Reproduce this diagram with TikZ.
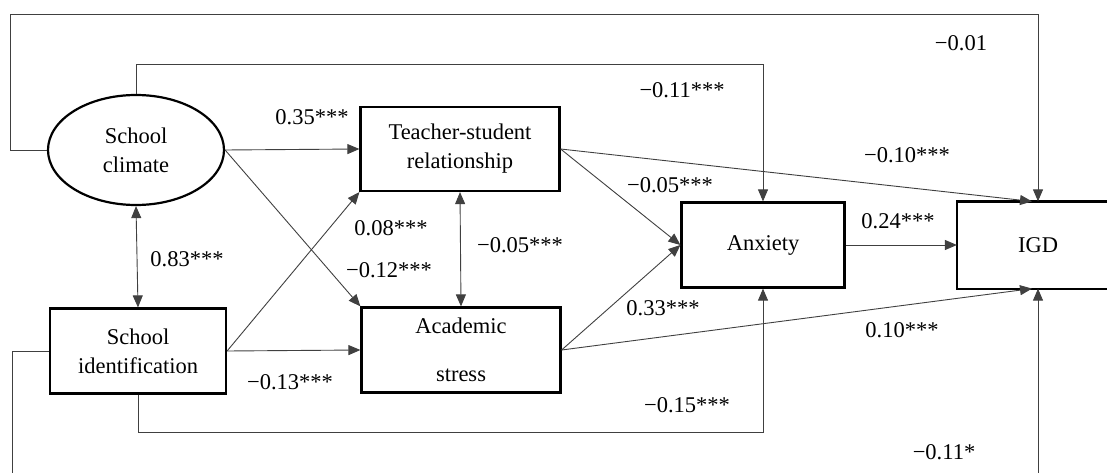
\documentclass[tikz,border=0pt]{standalone}
\usepackage{fontspec}
\setmainfont{Liberation Serif}
\usetikzlibrary{arrows.meta,shapes.geometric}

\begin{document}
\begin{tikzpicture}[x=1pt, y=-1pt,
    font=\fontsize{22.5}{29}\selectfont,
    var/.style={draw, line width=2.2pt, align=center, inner sep=0pt, minimum height=85pt},
    latent/.style={ellipse, draw, line width=2.2pt, align=center, inner sep=0pt,
                   minimum width=176pt, minimum height=110pt},
    link/.style={-{Triangle[length=12pt,width=10pt]}, line width=0.9pt, black!75},
    both/.style={{Triangle[length=12pt,width=10pt]}-{Triangle[length=12pt,width=10pt]},
                 line width=0.9pt, black!75},
    coef/.style={inner sep=1pt}]
    \useasboundingbox (0,0) rectangle (1107,473);

    % Variables
    \node[latent] (clim) at (136,150) {School\\climate};
    \node[var, minimum width=176pt] (sid) at (138,351) {School\\identification};
    \node[var, minimum width=199pt, minimum height=84pt] (tsr) at (460,149) {Teacher-student\\relationship};
    \node[var, minimum width=199pt] (as) at (461,350) {Academic\\[19pt]stress};
    \node[var, minimum width=163pt] (anx) at (763,245) {Anxiety};
    % IGD box runs off the right edge
    \node[var, draw=none, minimum width=160pt] (igd) at (1038,245) {IGD};
    \draw[line width=2.2pt] (1150,0 |- igd.north) -- (igd.north west)
                            -- (igd.south west) -- (1150,0 |- igd.south);

    % Corners of the long paths
    \coordinate (outtl) at (10,14);
    \coordinate (outbl) at (12,490);
    \coordinate (intop) at (0,64);
    \coordinate (inbot) at (0,432);

    % Paths from the predictors
    \draw[link] (clim.east) -- (tsr.west);
    \draw[link] (clim.east) -- (as.north west);
    \draw[link] (sid.east) -- (tsr.south west);
    \draw[link] (sid.east) -- (as.west);

    % Covariances
    \draw[both] (clim.south) -- (sid.north);
    \draw[both] (tsr.south) -- (as.north);

    % Paths to anxiety and IGD
    \draw[link] (tsr.east) -- (anx.west);
    \draw[link] (as.east) -- (anx.west);
    \draw[link] (tsr.east) -- ([xshift=-6pt]igd.north);
    \draw[link] (as.east) -- ([xshift=-6pt]igd.south);
    \draw[link] (anx.east) -- (igd.west);

    % Direct paths round the outside
    \draw[link] (clim.west) -| (outtl) -| (igd.north);
    \draw[link] (clim.north) -- (clim.north |- intop) -| (anx.north);
    \draw[link] (sid.south) -- (sid.south |- inbot) -| (anx.south);
    \draw[link] (sid.west) -| (outbl) -| (igd.south);

    % Coefficients
    \node[coef] (c1) at (961,43) {−0.01};
    \node[coef] (c2) at (682,90) {−0.11***};
    \node[coef] (c3) at (312,117) {0.35***};
    \node[coef] (c4) at (907,155) {−0.10***};
    \node[coef] (c5) at (670,185) {−0.05***};
    \node[coef] (c6) at (391,228) {0.08***};
    \node[coef] (c7) at (520,245) {−0.05***};
    \node[coef] (c8) at (187,259) {0.83***};
    \node[coef] (c9) at (389,270) {−0.12***};
    \node[coef] (c10) at (898,221) {0.24***};
    \node[coef] (c11) at (663,308) {0.33***};
    \node[coef] (c12) at (902,330) {0.10***};
    \node[coef] (c13) at (290,382) {−0.13***};
    \node[coef] (c14) at (687,405) {−0.15***};
    \node[coef] (c15) at (944,452) {−0.11*};
\end{tikzpicture}
\end{document}
